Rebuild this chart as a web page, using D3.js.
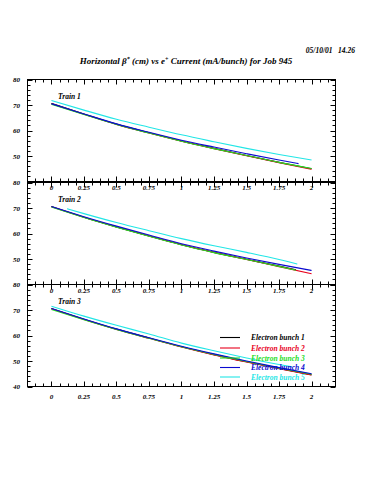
<!DOCTYPE html>
<html><head><meta charset="utf-8">
<script src="https://cdn.jsdelivr.net/npm/d3@7"></script>
<style>body{margin:0;background:#fff}svg{display:block}text{font-family:"Liberation Serif","DejaVu Serif",serif;font-weight:bold;font-style:italic}</style>
</head><body><div id="c"></div>
<script>
const titleParts = [["Horizontal \u03B2", 0], ["*", 1], [" (cm) vs e", 0], ["+", 1], [" Current (mA/bunch) for Job 945", 0]];
const dateText = "05/10/01\u00a0\u00a0\u00a014.26";
const trains = ["Train 1", "Train 2", "Train 3"];
const seriesNames = ["Electron bunch 1","Electron bunch 2","Electron bunch 3","Electron bunch 4","Electron bunch 5"];
const seriesColors = ["#000000","#e8001c","#22dd22","#0a0ad0","#22e6e6"];
const xTickValues = [0,0.25,0.5,0.75,1,1.25,1.5,1.75,2];
const xTickLabels = ["0","0.25","0.5","0.75","1","1.25","1.5","1.75","2"];
const yTickValues = [40,50,60,70,80];

// Train 1 series: [current, beta*]
const t1b1 = [[0,70.6],[0.25,66.5],[0.5,62.5],[0.75,59.1],[1,55.9],[1.25,53.0],[1.5,50.2],[1.75,47.5],[2,45.0]];
const t1b2 = [[0,70.5],[0.25,66.4],[0.5,62.4],[0.75,59.0],[1,55.8],[1.25,52.9],[1.5,50.1],[1.75,47.4],[2,44.8]];
const t1b3 = [[0,70.3],[0.25,66.3],[0.5,62.4],[0.75,59.0],[1,55.8],[1.25,52.9],[1.5,50.2],[1.75,47.5],[2,45.1]];
const t1b4 = [[0,70.5],[0.25,66.5],[0.5,62.6],[0.75,59.3],[1,56.2],[1.25,53.5],[1.5,50.9],[1.75,48.4],[1.9,47.0]];
const t1b5 = [[0,71.8],[0.25,68.0],[0.5,64.4],[0.75,61.3],[1,58.3],[1.25,55.6],[1.5,53.0],[1.75,50.6],[2,48.4]];
// Train 2
const t2b1 = [[0,70.6],[0.25,66.4],[0.5,62.6],[0.75,59.0],[1,55.6],[1.25,52.6],[1.5,49.9],[1.75,47.2],[1.88,45.8]];
const t2b2 = [[0,70.5],[0.25,66.4],[0.5,62.6],[0.75,59.0],[1,55.6],[1.25,52.6],[1.5,49.8],[1.75,47.0],[2,44.2]];
const t2b3 = [[0,70.4],[0.25,66.3],[0.5,62.5],[0.75,58.9],[1,55.5],[1.25,52.5],[1.5,49.8],[1.75,47.1],[1.88,45.6]];
const t2b4 = [[0,70.6],[0.25,66.6],[0.5,62.9],[0.75,59.4],[1,56.0],[1.25,53.1],[1.5,50.4],[1.75,47.9],[2,45.5]];
const t2b5 = [[0.12,69.7],[0.25,67.8],[0.5,64.3],[0.75,61.1],[1,58.0],[1.25,55.2],[1.5,52.6],[1.75,49.8],[1.89,48.0]];
// Train 3
const t3b1 = [[0,70.6],[0.25,66.4],[0.5,62.5],[0.75,59.0],[1,55.6],[1.25,52.5],[1.5,49.7],[1.75,47.1],[2,44.6]];
const t3b2 = [[0,70.5],[0.25,66.3],[0.5,62.4],[0.75,58.9],[1,55.5],[1.25,52.4],[1.5,49.6],[1.75,47.0],[2,44.5]];
const t3b3 = [[0,70.2],[0.25,66.2],[0.5,62.4],[0.75,58.9],[1,55.6],[1.25,52.6],[1.5,49.8],[1.75,47.2],[2,44.8]];
const t3b4 = [[0,70.6],[0.25,66.5],[0.5,62.6],[0.75,59.1],[1,55.8],[1.25,52.8],[1.5,50.0],[1.75,47.4],[2,45.0]];
const t3b5 = [[0,71.5],[0.25,67.6],[0.5,64.0],[0.75,60.6],[1,57.0],[1.25,54.0],[1.5,51.2],[1.75,48.6],[1.85,47.7]];

const trainData = [[t1b1,t1b2,t1b3,t1b4,t1b5],[t2b1,t2b2,t2b3,t2b4,t2b5],[t3b1,t3b2,t3b3,t3b4,t3b5]];

const W = 375, H = 500;
const svg = d3.select("#c").append("svg").attr("width", W).attr("height", H);
const left = 27.5, right = 335.5;
const panelTops = [79.5, 182.5, 284.5];
const panelH = 102;

const x = d3.scaleLinear().domain([-0.184, 2.184]).range([left, right]);

const title = svg.append("text").attr("x", 186).attr("y", 64).attr("text-anchor", "middle")
  .attr("font-size", 9);
titleParts.forEach(([t, sup]) => {
  const ts = title.append("tspan").text(t);
  if (sup) ts.attr("font-size", 6).attr("baseline-shift", "super");
});
svg.append("text").attr("x", 355).attr("y", 53).attr("text-anchor", "end")
  .attr("font-size", 7.5).text(dateText);

const minorX = d3.range(-0.125, 2.2, 0.0625).filter(v => v > -0.184 && v < 2.184);
const minorY = d3.range(40, 81, 2);

trainData.forEach((series, i) => {
  const top = panelTops[i];
  const y = d3.scaleLinear().domain([40, 80]).range([top + panelH, top]);
  const g = svg.append("g");
  g.append("rect").attr("x", left).attr("y", top).attr("width", right - left).attr("height", panelH)
    .attr("fill", "none").attr("stroke", "#000").attr("stroke-width", 1);
  minorX.forEach(v => {
    const major = Math.abs(v / 0.25 - Math.round(v / 0.25)) < 1e-6;
    const len = major ? 5 : 3;
    const px = Math.round(x(v)) + 0.5;
    g.append("line").attr("x1", px).attr("x2", px).attr("y1", top).attr("y2", top + len).attr("stroke", "#000");
    g.append("line").attr("x1", px).attr("x2", px).attr("y1", top + panelH).attr("y2", top + panelH - len).attr("stroke", "#000");
  });
  minorY.forEach(v => {
    const major = v % 10 === 0;
    const len = major ? 5 : 3;
    const py = Math.round(y(v)) + 0.5;
    g.append("line").attr("x1", left).attr("x2", left + len).attr("y1", py).attr("y2", py).attr("stroke", "#000");
    g.append("line").attr("x1", right).attr("x2", right - len).attr("y1", py).attr("y2", py).attr("stroke", "#000");
  });
  yTickValues.forEach(v => {
    if (v === 40 && i < 2) return;
    g.append("text").attr("x", 20).attr("y", y(v) + 2.5).attr("text-anchor", "end")
      .attr("font-size", 7).text(v);
  });
  const dy = i < 2 ? 8.5 : 12.5;
  xTickValues.forEach((v, k) => {
    g.append("text").attr("x", x(v)).attr("y", top + panelH + dy).attr("text-anchor", "middle")
      .attr("font-size", 7).text(xTickLabels[k]);
  });
  g.append("text").attr("x", 58).attr("y", top + 19).attr("font-size", 7.5).text(trains[i]);
  const line = d3.line().x(d => x(d[0])).y(d => y(d[1])).curve(d3.curveMonotoneX);
  series.forEach((s, k) => {
    g.append("path").datum(s).attr("d", line).attr("fill", "none")
      .attr("stroke", seriesColors[k]).attr("stroke-width", 1.1);
  });
  if (i === 2) {
    const ly = [337.5, 348, 358, 367.5, 377];
    seriesNames.forEach((n, k) => {
      g.append("line").attr("x1", 220).attr("x2", 240).attr("y1", ly[k]).attr("y2", ly[k])
        .attr("stroke", seriesColors[k]).attr("stroke-width", 1.1);
      g.append("text").attr("x", 251).attr("y", ly[k] + 2.5).attr("font-size", 7.5)
        .attr("fill", seriesColors[k]).text(n);
    });
  }
});
</script></body></html>
